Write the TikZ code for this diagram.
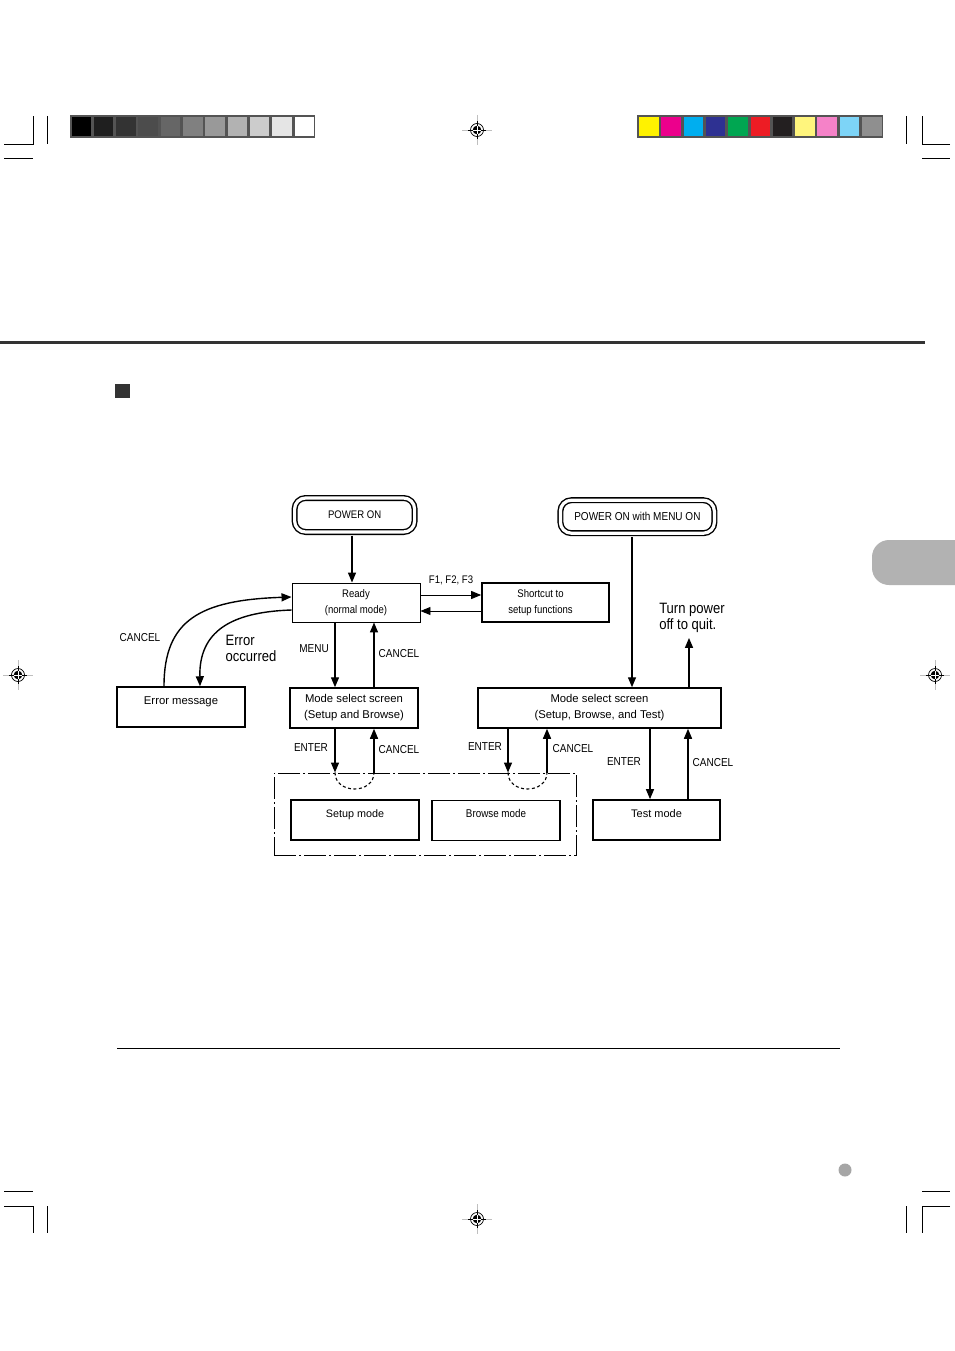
\documentclass[tikz,border=0pt]{standalone}
\usepackage{fontspec}
\setmainfont{Liberation Sans}
\newfontfamily\narrowfont[FakeStretch=0.87]{Liberation Sans}
\usetikzlibrary{arrows.meta, calc, positioning}

\newcommand\boxfont{\fontsize{11.3}{16}\selectfont}
\newcommand\keyfont{\narrowfont\fontsize{11.5}{16}\selectfont}
\newcommand\smallkeyfont{\narrowfont\fontsize{11}{16}\selectfont}
\newcommand\notefont{\narrowfont\fontsize{15}{16}\selectfont}

\definecolor{barYellow}{HTML}{FFF200}
\definecolor{barMagenta}{HTML}{EC008C}
\definecolor{barCyan}{HTML}{00AEEF}
\definecolor{barBlue}{HTML}{2E3192}
\definecolor{barGreen}{HTML}{00A651}
\definecolor{barRed}{HTML}{ED1C24}
\definecolor{barBlack}{HTML}{231F20}
\definecolor{barLYellow}{HTML}{FFF57D}
\definecolor{barPink}{HTML}{F582C8}
\definecolor{barLBlue}{HTML}{7DD4F7}
\definecolor{barGrey}{HTML}{8F8F8F}

\tikzset{
  box/.style={draw, line width=1.5pt, minimum width=128pt, minimum height=40pt,
    align=center, inner sep=2pt, font=\boxfont},
  topbox/.style={box, text height=13pt, text depth=19pt, inner ysep=4pt},
  pwr/.style={draw, double, double distance=3.2pt, line width=1.4pt,
    rounded corners=11pt, inner sep=2pt},
  grpbox/.style={draw, line width=1pt, dash pattern=on 22pt off 3pt on 2pt off 3pt},
  arr/.style={-{Triangle[length=10pt,width=8pt]}, line width=1.4pt},
  thinarr/.style={-{Triangle[length=10pt,width=8pt]}, line width=0.9pt},
  key/.style={font=\keyfont, inner sep=1pt},
  note/.style={font=\notefont, align=left, inner sep=1pt},
  crop/.style={line width=1pt},
  regmark/.pic={
    \draw[black!25, line width=0.8pt] (-15,0) -- (15,0) (0,-15) -- (0,15);
    \draw[line width=0.6pt] (-9,0) -- (9,0) (0,-9) -- (0,9);
    \draw[line width=0.7pt] (0,0) circle (6.5pt);
    \fill (0,0) circle (4.3pt);
    \draw[white, line width=0.8pt] (-4.3,0) -- (4.3,0) (0,-4.3) -- (0,4.3);
  }
}

\begin{document}
\begin{tikzpicture}[x=1pt, y=-1pt]
\useasboundingbox (0,0) rectangle (954,1351);

% crop marks
\draw[crop] (4,145) -- (33,145) -- (33,116);
\draw[crop] (47,116) -- (47,144);
\draw[crop] (4,159) -- (33,159);
\draw[crop] (950,145) -- (922,145) -- (922,116);
\draw[crop] (906,116) -- (906,144);
\draw[crop] (922,159) -- (950,159);
\draw[crop] (4,1191) -- (33,1191);
\draw[crop] (4,1206) -- (33,1206) -- (33,1233);
\draw[crop] (47,1206) -- (47,1233);
\draw[crop] (922,1191) -- (950,1191);
\draw[crop] (950,1206) -- (922,1206) -- (922,1233);
\draw[crop] (906,1206) -- (906,1233);

\pic at (477,130) {regmark};
\pic at (18,675) {regmark};
\pic at (935,675) {regmark};
\pic at (477,1219) {regmark};

% grey and colour scales
\fill[black!67] (70,115) rectangle (315,138);
\foreach \g [count=\i from 0] in {100,88,80,70,60,50,40,30,20,10,0}
  \fill[black!\g] (71.5+22.3*\i,117) rectangle ++(19.5,19);
\fill[black!67] (637,115) rectangle (883,138);
\foreach \c [count=\i from 0] in {barYellow,barMagenta,barCyan,barBlue,barGreen,barRed,
    barBlack,barLYellow,barPink,barLBlue,barGrey}
  \fill[\c] (639+22.3*\i,117) rectangle ++(19.5,19);

% page furniture
\draw[line width=3pt, black!80] (0,342) -- (925,342);
\fill[black!80] (115,384) rectangle (130,398);
\fill[black!30, rounded corners=17pt] (872,540) rectangle (990,585);
\draw[line width=1pt] (117,1048) -- (840,1048);
\fill[black!35] (845,1170) circle (6.5pt);

% boxes
\node[pwr, minimum width=120pt, minimum height=34pt, font=\smallkeyfont] (pon) at (354.6,515) {POWER ON};
\node[pwr, minimum width=154pt, minimum height=33pt, font=\narrowfont\fontsize{11.5}{16}\selectfont] (ponm) at (637.4,516.7) {POWER ON with MENU ON};

\node[box, line width=0.9pt, minimum height=39pt, font=\smallkeyfont] (ready) at (356,602.5) {Ready\\(normal mode)};
\node[box, line width=1.7pt, minimum width=127pt, minimum height=39pt, font=\smallkeyfont] (short) at (545.5,602.5) {\hspace*{-10pt}Shortcut to\\\hspace*{-10pt}setup functions};
\node[topbox] (err) at (181,707) {Error message};
\node[box] (msb) at (354,708) {Mode select screen\\(Setup and Browse)};
\node[box, minimum width=243pt] (msbt) at (599.5,708) {Mode select screen\\(Setup, Browse, and Test)};

\node[grpbox, minimum width=302pt, minimum height=82pt] (grp) at (425,814) {};
\node[topbox, line width=1.7pt, font=\fontsize{10.8}{16}\selectfont] (setup) at (355,820) {Setup mode};
\node[topbox, line width=1.2pt, minimum height=39pt, font=\narrowfont\fontsize{11.3}{16}\selectfont] (browse) at (496,820.5) {Browse mode};
\node[topbox, line width=1.7pt, minimum width=127pt, font=\fontsize{11}{16}\selectfont] (test) at (656.5,820) {Test mode};

% labels
\node[key, font=\smallkeyfont] (lfkey) at (451,580) {F1, F2, F3};
\node[key] (lcan0) at (140,638) {CANCEL};
\node[note] (lerr) at (251,648) {Error\\occurred};
\node[key] (lmenu) at (314,649) {MENU};
\node[key] (lcan1) at (399,654) {CANCEL};
\node[key] (lent2) at (311,748) {ENTER};
\node[key] (lcan2) at (399,750) {CANCEL};
\node[key] (lent3) at (485,747) {ENTER};
\node[key] (lcan3) at (573,749) {CANCEL};
\node[key] (lent4) at (624,762) {ENTER};
\node[key] (lcan4) at (713,763) {CANCEL};
\node[note] (quit) at (692,618) {Turn power\\off to quit.};

% arrows
\draw[arr, shorten <=3pt] (pon.south -| 352,0) -- (ready.north -| 352,0);
\draw[thinarr] (ready.east |- 0,595) -- (short.west |- 0,595);
\draw[thinarr] (short.west |- 0,611) -- (ready.east |- 0,611);

\draw[arr] (err.north -| 164,0) .. controls (164,620) and (200,600) .. (ready.west |- 0,597);
\draw[arr] (ready.west |- 0,610) .. controls (230,612) and (199,632) .. (err.north -| 200,0);

\draw[arr] (ready.south -| 335,0) -- (msb.north -| 335,0);
\draw[arr] (msb.north -| 374,0) -- (ready.south -| 374,0);
\draw[arr] (msb.south -| 335,0) -- (grp.north -| 335,0);
\draw[arr] (grp.north -| 374,0) -- (msb.south -| 374,0);
\draw[line width=1.1pt, dash pattern=on 3pt off 2.5pt] (grp.north -| 335,0) .. controls +(0,22) and +(0,22) .. (grp.north -| 374,0);

\draw[arr, shorten <=3pt] (ponm.south -| 632,0) -- (msbt.north -| 632,0);
\draw[arr, shorten >=4pt] (msbt.north -| 689,0) -- (quit.south -| 689,0);
\draw[arr] (msbt.south -| 508,0) -- (grp.north -| 508,0);
\draw[arr] (grp.north -| 547,0) -- (msbt.south -| 547,0);
\draw[line width=1.1pt, dash pattern=on 3pt off 2.5pt] (grp.north -| 508,0) .. controls +(0,22) and +(0,22) .. (grp.north -| 547,0);
\draw[arr] (msbt.south -| 650,0) -- (test.north -| 650,0);
\draw[arr] (test.north -| 688,0) -- (msbt.south -| 688,0);

\end{tikzpicture}
\end{document}
